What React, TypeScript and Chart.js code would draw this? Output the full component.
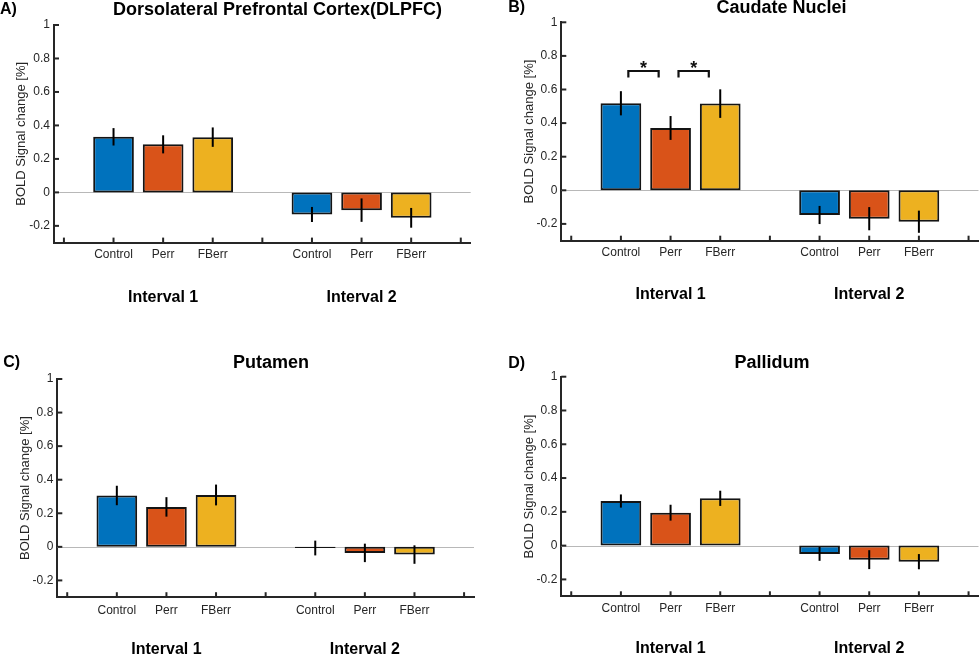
import React, { useEffect, useRef } from "react";
import { Chart, registerables } from "chart.js";

Chart.register(...registerables);

const FONT = "'Liberation Sans', Arial, Helvetica, sans-serif";
const INK = "#262626";

// ---- shared categories / ticks ----
const xTickValues = [0, 1, 2, 3, 4, 5, 6, 7, 8];
const xTickLabels = ["", "Control", "Perr", "FBerr", "", "Control", "Perr", "FBerr", ""];
const barPositions = [1, 2, 3, 5, 6, 7];
const conditionColors = ["#0072BD", "#D95319", "#EDB120", "#0072BD", "#D95319", "#EDB120"];
const intervalLabels = ["Interval 1", "Interval 2"];
const intervalPositions = [2, 6];
const yTickValues = [-0.2, 0, 0.2, 0.4, 0.6, 0.8, 1];
const yMin = -0.3;
const yMax = 1;
const xMin = -0.2;
const xMax = 8.2;

// ---- series values (mean, SEM) ----
const dlpfcMeans = [0.332, 0.287, 0.33, -0.132, -0.106, -0.152];
const dlpfcErrors = [0.052, 0.054, 0.058, 0.045, 0.07, 0.059];

const caudateMeans = [0.518, 0.371, 0.516, -0.147, -0.169, -0.187];
const caudateErrors = [0.072, 0.071, 0.085, 0.054, 0.069, 0.066];

const putamenMeans = [0.306, 0.238, 0.309, -0.007, -0.036, -0.046];
const putamenErrors = [0.058, 0.058, 0.062, 0.044, 0.055, 0.055];

const pallidumMeans = [0.264, 0.195, 0.28, -0.049, -0.083, -0.095];
const pallidumErrors = [0.039, 0.047, 0.045, 0.041, 0.056, 0.045];

// ---- significance brackets (caudate) ----
const caudateSigFrom = [1.15, 2.16];
const caudateSigTo = [1.76, 2.77];
const caudateSigTop = [0.71, 0.71];
const caudateSigLeg = [0.672, 0.672];
const caudateSigText = ["*", "*"];

type Layout = {
  left: number; top: number; width: number; height: number;
  area: { l: number; r: number; t: number; b: number };
  titleX: number; titleY: number; letterX: number; letterY: number; yTitleX: number;
  intervalDy: number; tickPad: number;
};

type PanelDef = {
  letter: string;
  title: string;
  means: number[];
  errors: number[];
  sig?: { from: number[]; to: number[]; top: number[]; leg: number[]; text: string[] };
  layout: Layout;
};

const X_AXIS_H = 20;

const panels: PanelDef[] = [
  {
    letter: "A)", title: "Dorsolateral Prefrontal Cortex(DLPFC)", means: dlpfcMeans, errors: dlpfcErrors,
    layout: { left: 0, top: 0, width: 490, height: 340, area: { l: 54, r: 470.7, t: 25, b: 242.6 },
      titleX: 277.5, titleY: 10, letterX: 0, letterY: 10, yTitleX: 21.7, intervalDy: 54.8, tickPad: 5 },
  },
  {
    letter: "B)", title: "Caudate Nuclei", means: caudateMeans, errors: caudateErrors,
    sig: { from: caudateSigFrom, to: caudateSigTo, top: caudateSigTop, leg: caudateSigLeg, text: caudateSigText },
    layout: { left: 490, top: 0, width: 490, height: 340, area: { l: 71.3, r: 488.5, t: 22.3, b: 240.7 },
      titleX: 291.5, titleY: 7.7, letterX: 18.3, letterY: 7.5, yTitleX: 39.3, intervalDy: 53.6, tickPad: 5 },
  },
  {
    letter: "C)", title: "Putamen", means: putamenMeans, errors: putamenErrors,
    layout: { left: 0, top: 340, width: 490, height: 316, area: { l: 57.3, r: 474, t: 39, b: 257.2 },
      titleX: 271, titleY: 23, letterX: 3.3, letterY: 23, yTitleX: 25, intervalDy: 52.3, tickPad: 6 },
  },
  {
    letter: "D)", title: "Pallidum", means: pallidumMeans, errors: pallidumErrors,
    layout: { left: 490, top: 340, width: 490, height: 316, area: { l: 71.3, r: 488.5, t: 36.7, b: 256.3 },
      titleX: 282, titleY: 23, letterX: 18.3, letterY: 23.3, yTitleX: 39.3, intervalDy: 52.3, tickPad: 5.5 },
  },
];

function Panel({ def }: { def: PanelDef }) {
  const ref = useRef<HTMLCanvasElement | null>(null);
  useEffect(() => {
    const canvas = ref.current;
    if (!canvas) return;
    const L = def.layout;
    const yTitleFont = 13;
    const decor = {
      id: "decor",
      beforeDatasetsDraw(chart: any) {
        const { ctx, chartArea, scales } = chart;
        const y0 = scales.y.getPixelForValue(0);
        ctx.save();
        ctx.strokeStyle = "#b8b8b8";
        ctx.lineWidth = 1;
        ctx.beginPath();
        ctx.moveTo(chartArea.left, Math.round(y0) + 0.5);
        ctx.lineTo(chartArea.right, Math.round(y0) + 0.5);
        ctx.stroke();
        ctx.restore();
      },
      afterDatasetsDraw(chart: any) {
        const { ctx, scales } = chart;
        const xs = scales.x, ys = scales.y;
        ctx.save();
        ctx.strokeStyle = "#000";
        ctx.lineWidth = 2;
        def.means.forEach((m, i) => {
          const px = xs.getPixelForValue(barPositions[i]);
          ctx.beginPath();
          ctx.moveTo(px, ys.getPixelForValue(m + def.errors[i]));
          ctx.lineTo(px, ys.getPixelForValue(m - def.errors[i]));
          ctx.stroke();
        });
        if (def.sig) {
          const s = def.sig;
          ctx.lineWidth = 2.2;
          ctx.strokeStyle = "#111";
          s.from.forEach((f, i) => {
            const x1 = xs.getPixelForValue(f);
            const x2 = xs.getPixelForValue(s.to[i]);
            const yt = ys.getPixelForValue(s.top[i]);
            const yl = ys.getPixelForValue(s.leg[i]);
            ctx.beginPath();
            ctx.moveTo(x1, yl);
            ctx.lineTo(x1, yt);
            ctx.lineTo(x2, yt);
            ctx.lineTo(x2, yl);
            ctx.stroke();
            ctx.fillStyle = "#111";
            ctx.font = `bold 18px ${FONT}`;
            ctx.textAlign = "center";
            ctx.textBaseline = "alphabetic";
            ctx.fillText(s.text[i], (x1 + x2) / 2, yt + 3);
          });
        }
        ctx.restore();
      },
      afterDraw(chart: any) {
        const { ctx, chartArea, scales } = chart;
        const xs = scales.x, ys = scales.y;
        ctx.save();
        ctx.strokeStyle = INK;
        ctx.lineWidth = 2;
        yTickValues.forEach((v) => {
          const py = ys.getPixelForValue(v);
          ctx.beginPath();
          ctx.moveTo(chartArea.left, py);
          ctx.lineTo(chartArea.left + 5, py);
          ctx.stroke();
        });
        xTickValues.forEach((v) => {
          const px = xs.getPixelForValue(v);
          ctx.beginPath();
          ctx.moveTo(px, chartArea.bottom);
          ctx.lineTo(px, chartArea.bottom - 5);
          ctx.stroke();
        });
        ctx.fillStyle = "#000";
        ctx.font = `bold 16px ${FONT}`;
        ctx.textAlign = "center";
        ctx.textBaseline = "middle";
        intervalLabels.forEach((t, i) => {
          ctx.fillText(t, xs.getPixelForValue(intervalPositions[i]), chartArea.bottom + L.intervalDy);
        });
        ctx.font = `bold 18px ${FONT}`;
        ctx.fillText(def.title, L.titleX, L.titleY);
        ctx.font = `bold 16px ${FONT}`;
        ctx.textAlign = "left";
        ctx.fillText(def.letter, L.letterX, L.letterY);
        ctx.restore();
      },
    };

    const chart = new Chart(canvas, {
      type: "bar",
      data: {
        datasets: [
          {
            data: barPositions.map((x, i) => ({ x, y: def.means[i] })),
            backgroundColor: conditionColors,
            borderColor: "#141414",
            borderWidth: 2,
            borderSkipped: false,
            barPercentage: 0.82,
            categoryPercentage: 1,
          } as any,
        ],
      },
      options: {
        animation: false,
        responsive: false,
        maintainAspectRatio: false,
        devicePixelRatio: 1,
        layout: {
          padding: { left: 0, right: L.width - L.area.r, top: L.area.t, bottom: L.height - L.area.b - X_AXIS_H },
        },
        plugins: { legend: { display: false }, tooltip: { enabled: false }, title: { display: false } },
        scales: {
          x: {
            type: "linear",
            offset: false,
            min: xMin,
            max: xMax,
            grid: { display: false, drawTicks: false, offset: false },
            border: { display: true, color: INK, width: 2 },
            afterBuildTicks: (s: any) => { s.ticks = xTickValues.map((v) => ({ value: v })); },
            afterFit: (s: any) => { s.height = X_AXIS_H; },
            ticks: {
              autoSkip: false, maxRotation: 0, minRotation: 0, padding: L.tickPad, color: INK,
              font: { family: FONT, size: 12 },
              callback: (v: any) => xTickLabels[Math.round(Number(v))] ?? "",
            },
          },
          y: {
            type: "linear",
            min: yMin,
            max: yMax,
            grid: { display: false, drawTicks: false },
            border: { display: true, color: INK, width: 2 },
            afterBuildTicks: (s: any) => { s.ticks = yTickValues.map((v) => ({ value: v })); },
            afterFit: (s: any) => { s.width = L.area.l; },
            ticks: {
              padding: 4, color: INK, font: { family: FONT, size: 12 },
              callback: (v: any) => String(Math.round(Number(v) * 10) / 10),
            },
            title: {
              display: true, text: "BOLD Signal change [%]", color: INK,
              font: { family: FONT, size: yTitleFont },
              padding: { top: L.yTitleX - yTitleFont * 0.6, bottom: 0 },
            },
          },
        } as any,
      },
      plugins: [decor],
    });
    return () => chart.destroy();
  }, [def]);

  const L = def.layout;
  return (
    <canvas
      ref={ref}
      width={L.width}
      height={L.height}
      style={{ position: "absolute", left: L.left, top: L.top, width: L.width, height: L.height, display: "block" }}
    />
  );
}

export default function App() {
  return (
    <div style={{ position: "absolute", left: 0, top: 0, width: 980, height: 656, background: "#fff", overflow: "hidden" }}>
      {panels.map((p) => (
        <Panel key={p.letter} def={p} />
      ))}
    </div>
  );
}
